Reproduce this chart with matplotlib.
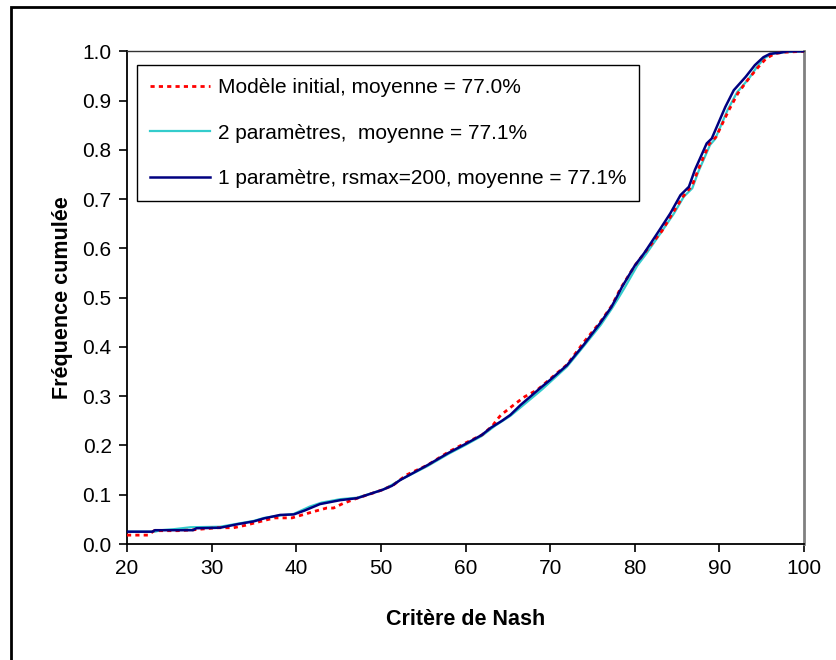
import matplotlib
matplotlib.use("Agg")
import matplotlib.pyplot as plt
from matplotlib.patches import Rectangle

plt.rcParams['font.family'] = ['Liberation Sans', 'DejaVu Sans']

# Series: Modèle initial (red dotted)
x_init = [20, 22.5, 23.2, 26, 28, 30.6, 32.6, 34, 36.5, 37.5, 39.5, 42.1, 43.6, 44.4, 45.5,
          47.2, 49, 50.2, 51.5, 53, 55.5, 58, 60, 62, 63.2, 63.7, 64.2, 65.9, 67.0, 68.5,
          70, 72, 74, 75.9, 77.3, 78.3, 80, 81.3, 83.2, 84.5, 85.7, 86.8, 87.5, 88.8, 89.6,
          91.1, 92.2, 93.4, 94.6, 95.5, 96.5, 97.5, 100]
y_init = [0.018, 0.018, 0.027, 0.027, 0.029, 0.033, 0.033, 0.038, 0.049, 0.053, 0.053, 0.066,
          0.073, 0.073, 0.082, 0.093, 0.103, 0.110, 0.120, 0.140, 0.160, 0.187, 0.205, 0.222,
          0.240, 0.252, 0.262, 0.285, 0.299, 0.313, 0.335, 0.364, 0.410, 0.450, 0.484, 0.518,
          0.565, 0.594, 0.635, 0.672, 0.705, 0.728, 0.760, 0.812, 0.826, 0.880, 0.915, 0.943,
          0.968, 0.985, 0.995, 0.998, 1.0]

# Series: 2 paramètres (cyan)
x_2p = [20, 23.3, 24, 25.5, 27.5, 31, 33, 35, 36.2, 38.1, 39.7, 41.6, 43, 45.2, 47.2, 50.2,
        51.3, 52.3, 55.5, 58, 60, 61.9, 63.5, 65.3, 66.7, 69, 72, 74, 76, 77.3, 78.1, 78.8,
        80.3, 81.4, 83.1, 84.6, 85.8, 86.8, 87.5, 88.9, 89.5, 91.0, 92.1, 93.5, 94.5, 95.4,
        96.5, 100]
y_2p = [0.025, 0.025, 0.028, 0.030, 0.034, 0.035, 0.041, 0.047, 0.053, 0.058, 0.061, 0.076,
        0.084, 0.091, 0.094, 0.110, 0.120, 0.130, 0.158, 0.183, 0.201, 0.219, 0.240, 0.260,
        0.280, 0.313, 0.360, 0.402, 0.445, 0.478, 0.500, 0.520, 0.565, 0.590, 0.632, 0.670,
        0.705, 0.722, 0.755, 0.810, 0.822, 0.882, 0.917, 0.945, 0.970, 0.987, 0.997, 1.0]

# Series: 1 paramètre, rsmax=200 (navy)
x_1p = [20, 23.0, 23.3, 27.8, 28.2, 31, 33, 35, 36.2, 38.1, 39.7, 41, 42.8, 45.2, 47.2, 50.2,
        51.3, 52.3, 55.5, 56.2, 58, 60, 61.9, 63, 64.3, 65.3, 66.5, 68.8, 70, 72.0, 74, 75.9,
        77.2, 77.9, 78.5, 80, 81.1, 82.8, 84.2, 85.4, 86.4, 87.1, 88.5, 89.1, 90.7, 91.7,
        93.1, 94.2, 95.2, 96.0, 97.2, 98, 100]
y_1p = [0.025, 0.025, 0.028, 0.028, 0.032, 0.033, 0.040, 0.046, 0.052, 0.059, 0.060, 0.068,
        0.081, 0.089, 0.093, 0.110, 0.118, 0.130, 0.160, 0.167, 0.185, 0.203, 0.221, 0.236,
        0.250, 0.262, 0.282, 0.316, 0.333, 0.363, 0.405, 0.448, 0.480, 0.502, 0.522, 0.565,
        0.590, 0.634, 0.671, 0.708, 0.725, 0.759, 0.813, 0.823, 0.887, 0.921, 0.948, 0.972,
        0.988, 0.995, 0.997, 1.0, 1.0]

labels = ["Modèle initial, moyenne = 77.0%",
          "2 paramètres,  moyenne = 77.1%",
          "1 paramètre, rsmax=200, moyenne = 77.1%"]
x_ticks = [20, 30, 40, 50, 60, 70, 80, 90, 100]
y_ticks = [0.0, 0.1, 0.2, 0.3, 0.4, 0.5, 0.6, 0.7, 0.8, 0.9, 1.0]

W, H = 837, 660
fig = plt.figure(figsize=(W / 100, H / 100), dpi=100)
ax = fig.add_axes([127 / W, 1 - 544 / H, (804 - 127) / W, (544 - 51.3) / H])

ax.plot(x_init, y_init, color='#FF0000', lw=2, linestyle=(0, (1.5, 1.5)), label=labels[0], zorder=3)
ax.plot(x_2p, y_2p, color='#33CCCC', lw=1.6, label=labels[1], zorder=2)
ax.plot(x_1p, y_1p, color='#000080', lw=1.8, label=labels[2], zorder=4)

ax.set_xlim(20, 100)
ax.set_ylim(0, 1.0)
ax.set_xticks(x_ticks)
ax.set_xticklabels([str(v) for v in x_ticks])
ax.set_yticks(y_ticks)
ax.set_yticklabels([f"{v:.1f}" for v in y_ticks])
ax.tick_params(direction='out', length=6, width=1.2, labelsize=15, pad=5)

for side in ['left', 'bottom']:
    ax.spines[side].set_color('black')
    ax.spines[side].set_linewidth(1.3)
ax.spines['top'].set_color('#333333')
ax.spines['top'].set_linewidth(1.0)
ax.spines['right'].set_color('#808080')
ax.spines['right'].set_linewidth(2.0)

ax.set_xlabel("Critère de Nash", fontsize=15.5, fontweight='bold', labelpad=22)
ax.set_ylabel("Fréquence cumulée", fontsize=15.5, fontweight='bold', labelpad=7)

leg = ax.legend(loc='upper left', bbox_to_anchor=(10 / 677, 1 - 14 / 492.7), borderaxespad=0,
                fontsize=15, frameon=True, fancybox=False, framealpha=1, edgecolor='black',
                labelspacing=1.27, handlelength=2.9, handletextpad=0.35, borderpad=0.62)
leg.get_frame().set_linewidth(1.0)

# outer chart-area border
fig.patches.append(Rectangle((11.3 / W, -0.1), 2, 1 - 6.7 / H + 0.1, transform=fig.transFigure,
                             fill=False, edgecolor='black', lw=2))

fig.savefig("out.png", dpi=100)
